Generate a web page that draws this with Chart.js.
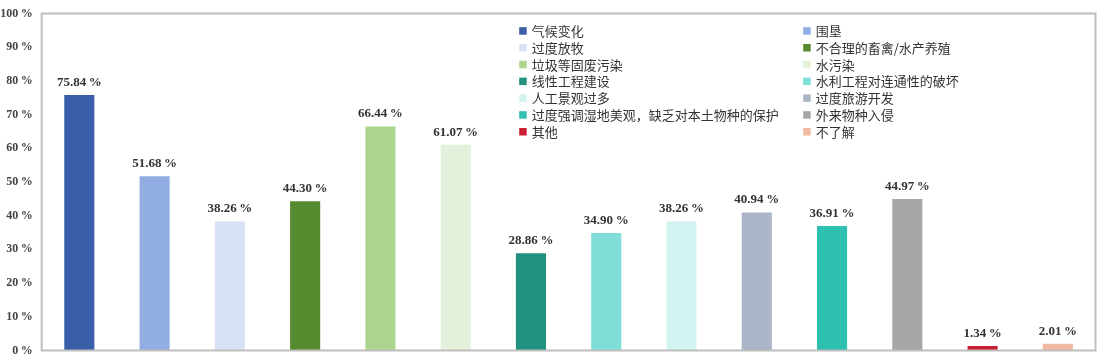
<!DOCTYPE html>
<html>
<head>
<meta charset="utf-8">
<script src="https://cdn.jsdelivr.net/npm/chart.js@4"></script>
<style>
  body { margin: 0; background: #fff; }
  #wrap { width: 1107px; height: 363px; position: relative; }
</style>
</head>
<body>
<div id="wrap"><canvas id="barChart"></canvas></div>
<script>
const categories = [
  "气候变化", "围垦", "过度放牧", "不合理的畜禽/水产养殖",
  "垃圾等固废污染", "水污染", "线性工程建设", "水利工程对连通性的破坏",
  "人工景观过多", "过度旅游开发", "过度强调湿地美观，缺乏对本土物种的保护", "外来物种入侵",
  "其他", "不了解"
];
const percentValues = [75.84, 51.68, 38.26, 44.30, 66.44, 61.07, 28.86, 34.90, 38.26, 40.94, 36.91, 44.97, 1.34, 2.01];
const barColors = [
  "#3a5ea8", "#92ade1", "#d9e2f5", "#568a2f",
  "#acd68e", "#e4f1da", "#23917f", "#7fded7",
  "#d3f3f1", "#aab5c7", "#2ec0b1", "#a6a6a6",
  "#c91f33", "#f2b9a1"
];
const yTicks = [0, 10, 20, 30, 40, 50, 60, 70, 80, 90, 100];

const serif = "'Liberation Serif', 'Times New Roman', serif";

// frame round the plot area
const framePlugin = {
  id: "frame",
  afterDatasetsDraw(chart) {
    const { ctx, chartArea: a } = chart;
    ctx.save();
    ctx.strokeStyle = "#bfbfbf";
    ctx.lineWidth = 2;
    ctx.strokeRect(a.left, a.top, a.right - a.left, a.bottom - a.top);
    ctx.restore();
  }
};

// value labels above each bar
const valueLabels = {
  id: "valueLabels",
  afterDatasetsDraw(chart) {
    const ctx = chart.ctx;
    const meta = chart.getDatasetMeta(0);
    ctx.save();
    ctx.font = "bold 13px " + serif;
    ctx.fillStyle = "#333";
    ctx.textAlign = "center";
    ctx.textBaseline = "bottom";
    meta.data.forEach((bar, i) => {
      ctx.fillText(percentValues[i].toFixed(2) + "\u2009%", bar.x, bar.y - 6);
    });
    ctx.restore();
  }
};

// two column legend inside the plot
const innerLegend = {
  id: "innerLegend",
  afterDraw(chart) {
    const ctx = chart.ctx;
    const a = chart.chartArea;
    const colX = [a.left + 477.5, a.left + 761.5];
    const top = a.top + 17.5;
    const rowH = 16.8;
    ctx.save();
    ctx.font = "13px 'Noto Sans CJK SC', sans-serif";
    ctx.textBaseline = "middle";
    categories.forEach((name, i) => {
      const x = colX[i % 2];
      const y = top + Math.floor(i / 2) * rowH;
      ctx.fillStyle = barColors[i];
      ctx.fillRect(x, y - 3.8, 7.5, 7.5);
      ctx.fillStyle = "#333";
      ctx.fillText(name, x + 12.5, y);
    });
    ctx.restore();
  }
};

const ctx = document.getElementById("barChart").getContext("2d");
const chart = new Chart(ctx, {
  type: "bar",
  data: {
    labels: categories,
    datasets: [
      {
        data: percentValues,
        backgroundColor: barColors,
        borderWidth: 0,
        categoryPercentage: 1,
        barPercentage: 0.4,
      },
    ],
  },
  options: {
    responsive: true,
    maintainAspectRatio: false,
    animation: false,
    layout: { padding: { top: 13.5, right: 11.5, bottom: 12.5, left: 0 } },
    plugins: {
      legend: { display: false },
      tooltip: { enabled: false },
    },
    scales: {
      x: { display: false },
      y: {
        min: 0,
        max: 100,
        afterBuildTicks(axis) {
          axis.ticks = yTicks.map((v) => ({ value: v }));
        },
        afterFit(axis) {
          axis.width = 41.7;
          axis.paddingTop = 0;
          axis.paddingBottom = 0;
        },
        grid: { display: false, drawTicks: false },
        border: { display: false },
        ticks: {
          padding: 9,
          color: "#444",
          font: { family: serif, size: 12, weight: "bold" },
          callback: (v) => v + "\u2009%",
        },
      },
    },
  },
  plugins: [framePlugin, valueLabels, innerLegend],
});
</script>
</body>
</html>
